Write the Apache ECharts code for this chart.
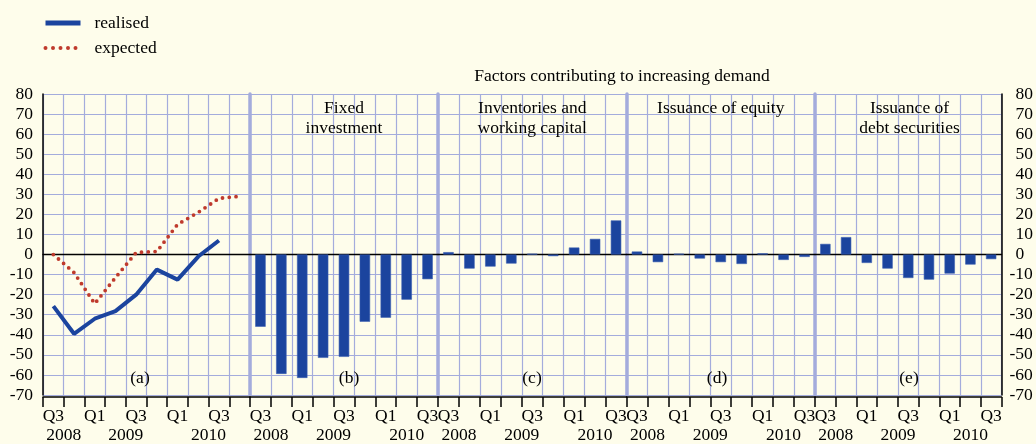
<!DOCTYPE html>
<html>
<head>
<meta charset="utf-8">
<title>Factors contributing to increasing demand</title>
<script src="https://cdn.jsdelivr.net/npm/echarts@6/dist/echarts.min.js"></script>
<style>
  html, body { margin: 0; padding: 0; background: #fefdeb; }
  #chart { width: 1036px; height: 444px; }
</style>
</head>
<body>
<div id="chart"></div>
<script>
// 季度标签：(a) 2008Q3–2010Q4，(b)-(e) 2008Q3–2010Q3
const quartersA = ['Q3', 'Q4', 'Q1', 'Q2', 'Q3', 'Q4', 'Q1', 'Q2', 'Q3', 'Q4']
const quartersB = ['Q3', 'Q4', 'Q1', 'Q2', 'Q3', 'Q4', 'Q1', 'Q2', 'Q3']
// 年份标签及其覆盖的季度数
const yearsA = [['2008', 2], ['2009', 4], ['2010', 4]]
const yearsB = [['2008', 2], ['2009', 4], ['2010', 3]]

// (a) 实际 / 预期
const realised = [-25.7, -39.5, -32, -28.2, -20, -7.5, -12.5, -1, 7, null]
const expected = [0, -9, -24.5, -11.5, 1, 1.5, 15, 21, 28, 29]

// (b)-(e) 各因素
const fixedInvestment = [-36, -59.5, -61.5, -51.5, -51, -33.5, -31.5, -22.5, -12.3]
const inventories = [1.2, -7, -6, -4.5, 0.4, -0.8, 3.5, 7.8, 17]
const equity = [1.5, -3.8, 0.4, -2, -3.8, -4.7, 0.6, -2.7, -1.2]
const debtSecurities = [5.3, 8.7, -4.2, -7, -11.7, -12.5, -9.5, -5, -2.3]

const panelTitles = ['', 'Fixed\ninvestment', 'Inventories and\nworking capital', 'Issuance of equity', 'Issuance of\ndebt securities']
const panelLetters = ['(a)', '(b)', '(c)', '(d)', '(e)']

const FONT = 'Liberation Serif'
const GRID = '#a4acdc'
const BLUE = '#1b449e'
const RED = '#bf3a2c'
const edges = [43, 250, 438, 626.5, 815, 1004]
const letterX = [140, 349, 532, 717, 909]
const cats = [quartersA, quartersB, quartersB, quartersB, quartersB]
const years = [yearsA, yearsB, yearsB, yearsB, yearsB]
const barData = [null, fixedInvestment, inventories, equity, debtSecurities]

// 年份轴：2N+1 个点，年份放在其季度跨度的中心
const yearAxisData = (q, ys) => {
  const d = new Array(2 * q.length + 1).fill('')
  let s = 0
  ys.forEach(([label, n]) => {
    d[2 * s + n] = label
    s += n
  })
  return d
}

const textStyle = { fontFamily: FONT, fontSize: 17.5, color: '#000' }

const grids = []
const xAxes = []
const yAxes = []
const series = []
const titles = [{
  text: 'Factors contributing to increasing demand',
  left: 622, top: 67, padding: 0, textAlign: 'center',
  textStyle: { ...textStyle, fontWeight: 'normal' }
}]

for (let i = 0; i < 5; i++) {
  grids.push({ left: edges[i], top: 94, width: edges[i + 1] - edges[i], height: 301 })

  // 季度轴
  xAxes.push({
    type: 'category', gridIndex: i, data: cats[i], position: 'bottom', offset: 2,
    axisLine: { onZero: false, lineStyle: { color: '#000', width: 1.5 } },
    axisTick: { show: true, interval: 0, length: 10, lineStyle: { color: '#000', width: 1.5 } },
    axisLabel: { interval: 1, margin: 10, ...textStyle },
    splitLine: { show: true, interval: 0, lineStyle: { color: GRID, width: 1.2 } }
  })
  // 年份轴
  xAxes.push({
    type: 'category', gridIndex: i, data: yearAxisData(cats[i], years[i]),
    boundaryGap: false, position: 'bottom',
    axisLine: { show: false, onZero: false },
    axisTick: { show: false },
    axisLabel: { interval: 0, margin: 31, ...textStyle },
    splitLine: { show: false }
  })
  // 零线
  xAxes.push({
    type: 'category', gridIndex: i, data: cats[i], position: 'bottom',
    axisLine: { show: true, onZero: true, lineStyle: { color: '#000', width: 1.3 } },
    axisTick: { show: false },
    axisLabel: { show: false },
    splitLine: { show: false }
  })

  yAxes.push({
    type: 'value', gridIndex: i, min: -70, max: 80, interval: 10, position: 'left',
    axisLine: { show: true, lineStyle: { color: i === 0 ? '#000' : GRID, width: i === 0 ? 1.5 : 3.5 } },
    axisTick: { show: false },
    axisLabel: { show: i === 0, margin: 10, ...textStyle },
    splitLine: { show: true, lineStyle: { color: GRID, width: 1.2 } }
  })

  if (barData[i]) {
    series.push({
      type: 'bar', xAxisIndex: 3 * i, yAxisIndex: i, data: barData[i],
      barWidth: '50%',
      itemStyle: { color: BLUE, borderColor: '#3d60b2', borderWidth: 0.6 }
    })
  }

  if (panelTitles[i]) {
    titles.push({
      text: panelTitles[i], left: (edges[i] + edges[i + 1]) / 2, top: 98, padding: 0,
      textAlign: 'center',
      textStyle: { ...textStyle, fontWeight: 'normal', lineHeight: 20 }
    })
  }
  titles.push({
    text: panelLetters[i], left: letterX[i], top: 369, padding: 0, textAlign: 'center',
    textStyle: { ...textStyle, fontWeight: 'normal' }
  })
}

// 右侧纵轴
yAxes.push({
  type: 'value', gridIndex: 4, min: -70, max: 80, interval: 10, position: 'right',
  axisLine: { show: true, lineStyle: { color: '#000', width: 1.5 } },
  axisTick: { show: false },
  axisLabel: {
    margin: 8, align: 'left', ...textStyle,
    formatter: v => (v < 0 ? String(v) : '{p| }' + v),
    rich: { p: { width: 6 } }
  },
  splitLine: { show: false }
})

series.push({
  name: 'realised', type: 'line', xAxisIndex: 0, yAxisIndex: 0, data: realised,
  symbol: 'none', z: 4,
  lineStyle: { color: BLUE, width: 4 },
  itemStyle: { color: BLUE }
})
series.push({
  name: 'expected', type: 'line', xAxisIndex: 0, yAxisIndex: 0, data: expected,
  symbol: 'none', z: 3,
  lineStyle: { color: RED, width: 3.8, type: [0, 6.8], cap: 'round' },
  itemStyle: { color: RED }
})

const chart = echarts.init(document.getElementById('chart'))
chart.setOption({
  backgroundColor: '#fefdeb',
  animation: false,
  title: titles,
  legend: {
    data: [
      { name: 'realised', lineStyle: { width: 5 } },
      { name: 'expected', lineStyle: { width: 4, type: [0, 7.5], cap: 'round' } }
    ],
    orient: 'vertical', left: 43, top: 14, padding: 0,
    itemWidth: 35, itemHeight: 14, itemGap: 7,
    itemStyle: { opacity: 0 },
    textStyle: { ...textStyle, padding: [0, 0, 0, 9] }
  },
  grid: grids,
  xAxis: xAxes,
  yAxis: yAxes,
  series: series
})
</script>
</body>
</html>
